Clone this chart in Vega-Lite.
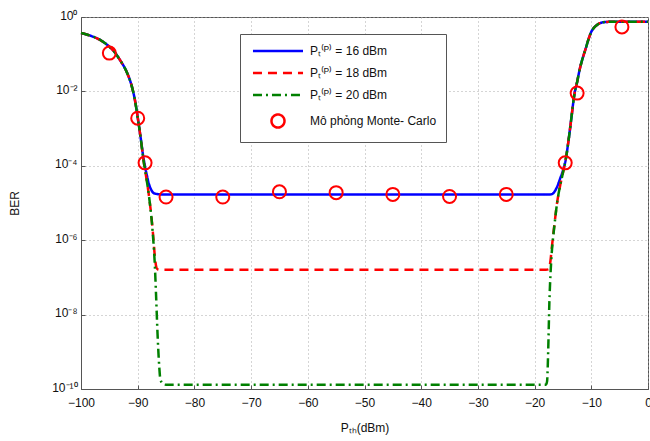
{
  "$schema": "https://vega.github.io/schema/vega-lite/v6.json",
  "width": 567,
  "height": 372,
  "autosize": {"type": "none"},
  "padding": {"left": 81, "top": 17, "right": 2, "bottom": 52},
  "background": "white",
  "config": {
    "font": "Liberation Sans",
    "view": {"stroke": "#555", "strokeWidth": 1},
    "axis": {
      "labelFont": "Liberation Sans", "titleFont": "Liberation Sans",
      "labelFontSize": 12, "titleFontSize": 12, "titleFontWeight": "normal",
      "labelColor": "#111", "titleColor": "#111",
      "domainColor": "#555", "tickColor": "#555",
      "gridColor": "#aaa", "gridDash": [1, 3], "gridOpacity": 1,
      "tickSize": -4, "labelPadding": 8, "labelFlush": false
    },
    "legend": {
      "labelFont": "Liberation Sans",
      "orient": "none", "legendX": 159, "legendY": 17,
      "fillColor": "white", "strokeColor": "#555",
      "padding": 9, "rowPadding": 8,
      "symbolSize": 169, "symbolStrokeWidth": 2.5, "symbolOffset": 21,
      "labelFontSize": 12, "labelOffset": 24, "labelColor": "#111"
    }
  },
  "datasets": {
    "lines": [
      {"x": -100, "y": 0.37, "s": "Pₜ⁽ᴾ⁾ = 16 dBm"},
      {"x": -99, "y": 0.34, "s": "Pₜ⁽ᴾ⁾ = 16 dBm"},
      {"x": -98, "y": 0.30, "s": "Pₜ⁽ᴾ⁾ = 16 dBm"},
      {"x": -97, "y": 0.26, "s": "Pₜ⁽ᴾ⁾ = 16 dBm"},
      {"x": -96, "y": 0.21, "s": "Pₜ⁽ᴾ⁾ = 16 dBm"},
      {"x": -95, "y": 0.16, "s": "Pₜ⁽ᴾ⁾ = 16 dBm"},
      {"x": -94, "y": 0.11, "s": "Pₜ⁽ᴾ⁾ = 16 dBm"},
      {"x": -93, "y": 0.065, "s": "Pₜ⁽ᴾ⁾ = 16 dBm"},
      {"x": -92, "y": 0.035, "s": "Pₜ⁽ᴾ⁾ = 16 dBm"},
      {"x": -91, "y": 0.013, "s": "Pₜ⁽ᴾ⁾ = 16 dBm"},
      {"x": -90.5, "y": 0.006, "s": "Pₜ⁽ᴾ⁾ = 16 dBm"},
      {"x": -90, "y": 0.002, "s": "Pₜ⁽ᴾ⁾ = 16 dBm"},
      {"x": -89.5, "y": 0.0006, "s": "Pₜ⁽ᴾ⁾ = 16 dBm"},
      {"x": -89, "y": 0.00017, "s": "Pₜ⁽ᴾ⁾ = 16 dBm"},
      {"x": -88.5, "y": 6.7e-5, "s": "Pₜ⁽ᴾ⁾ = 16 dBm"},
      {"x": -88, "y": 3.2e-5, "s": "Pₜ⁽ᴾ⁾ = 16 dBm"},
      {"x": -87.5, "y": 2.1e-5, "s": "Pₜ⁽ᴾ⁾ = 16 dBm"},
      {"x": -87, "y": 1.8e-5, "s": "Pₜ⁽ᴾ⁾ = 16 dBm"},
      {"x": -86, "y": 1.7e-5, "s": "Pₜ⁽ᴾ⁾ = 16 dBm"},
      {"x": -85, "y": 1.68e-5, "s": "Pₜ⁽ᴾ⁾ = 16 dBm"},
      {"x": -18, "y": 1.68e-5, "s": "Pₜ⁽ᴾ⁾ = 16 dBm"},
      {"x": -17, "y": 1.72e-5, "s": "Pₜ⁽ᴾ⁾ = 16 dBm"},
      {"x": -16.5, "y": 2e-5, "s": "Pₜ⁽ᴾ⁾ = 16 dBm"},
      {"x": -16, "y": 2.8e-5, "s": "Pₜ⁽ᴾ⁾ = 16 dBm"},
      {"x": -15.5, "y": 4.5e-5, "s": "Pₜ⁽ᴾ⁾ = 16 dBm"},
      {"x": -15, "y": 7.5e-5, "s": "Pₜ⁽ᴾ⁾ = 16 dBm"},
      {"x": -14.5, "y": 0.00015, "s": "Pₜ⁽ᴾ⁾ = 16 dBm"},
      {"x": -14, "y": 0.0005, "s": "Pₜ⁽ᴾ⁾ = 16 dBm"},
      {"x": -13.5, "y": 0.002, "s": "Pₜ⁽ᴾ⁾ = 16 dBm"},
      {"x": -13, "y": 0.008, "s": "Pₜ⁽ᴾ⁾ = 16 dBm"},
      {"x": -12.5, "y": 0.018, "s": "Pₜ⁽ᴾ⁾ = 16 dBm"},
      {"x": -12, "y": 0.042, "s": "Pₜ⁽ᴾ⁾ = 16 dBm"},
      {"x": -11.5, "y": 0.08, "s": "Pₜ⁽ᴾ⁾ = 16 dBm"},
      {"x": -11, "y": 0.14, "s": "Pₜ⁽ᴾ⁾ = 16 dBm"},
      {"x": -10.5, "y": 0.25, "s": "Pₜ⁽ᴾ⁾ = 16 dBm"},
      {"x": -10, "y": 0.4, "s": "Pₜ⁽ᴾ⁾ = 16 dBm"},
      {"x": -9.5, "y": 0.52, "s": "Pₜ⁽ᴾ⁾ = 16 dBm"},
      {"x": -9, "y": 0.61, "s": "Pₜ⁽ᴾ⁾ = 16 dBm"},
      {"x": -8.5, "y": 0.68, "s": "Pₜ⁽ᴾ⁾ = 16 dBm"},
      {"x": -8, "y": 0.72, "s": "Pₜ⁽ᴾ⁾ = 16 dBm"},
      {"x": -7, "y": 0.74, "s": "Pₜ⁽ᴾ⁾ = 16 dBm"},
      {"x": -6, "y": 0.75, "s": "Pₜ⁽ᴾ⁾ = 16 dBm"},
      {"x": 0, "y": 0.75, "s": "Pₜ⁽ᴾ⁾ = 16 dBm"},

      {"x": -100, "y": 0.37, "s": "Pₜ⁽ᴾ⁾ = 18 dBm"},
      {"x": -99, "y": 0.34, "s": "Pₜ⁽ᴾ⁾ = 18 dBm"},
      {"x": -98, "y": 0.30, "s": "Pₜ⁽ᴾ⁾ = 18 dBm"},
      {"x": -97, "y": 0.26, "s": "Pₜ⁽ᴾ⁾ = 18 dBm"},
      {"x": -96, "y": 0.21, "s": "Pₜ⁽ᴾ⁾ = 18 dBm"},
      {"x": -95, "y": 0.16, "s": "Pₜ⁽ᴾ⁾ = 18 dBm"},
      {"x": -94, "y": 0.11, "s": "Pₜ⁽ᴾ⁾ = 18 dBm"},
      {"x": -93, "y": 0.065, "s": "Pₜ⁽ᴾ⁾ = 18 dBm"},
      {"x": -92, "y": 0.035, "s": "Pₜ⁽ᴾ⁾ = 18 dBm"},
      {"x": -91, "y": 0.013, "s": "Pₜ⁽ᴾ⁾ = 18 dBm"},
      {"x": -90.5, "y": 0.006, "s": "Pₜ⁽ᴾ⁾ = 18 dBm"},
      {"x": -90, "y": 0.002, "s": "Pₜ⁽ᴾ⁾ = 18 dBm"},
      {"x": -89.5, "y": 0.0006, "s": "Pₜ⁽ᴾ⁾ = 18 dBm"},
      {"x": -89, "y": 0.00015, "s": "Pₜ⁽ᴾ⁾ = 18 dBm"},
      {"x": -88.5, "y": 5e-5, "s": "Pₜ⁽ᴾ⁾ = 18 dBm"},
      {"x": -88, "y": 1.5e-5, "s": "Pₜ⁽ᴾ⁾ = 18 dBm"},
      {"x": -87.5, "y": 3.2e-6, "s": "Pₜ⁽ᴾ⁾ = 18 dBm"},
      {"x": -87.25, "y": 1.2e-6, "s": "Pₜ⁽ᴾ⁾ = 18 dBm"},
      {"x": -87, "y": 4e-7, "s": "Pₜ⁽ᴾ⁾ = 18 dBm"},
      {"x": -86.75, "y": 2e-7, "s": "Pₜ⁽ᴾ⁾ = 18 dBm"},
      {"x": -86.5, "y": 1.65e-7, "s": "Pₜ⁽ᴾ⁾ = 18 dBm"},
      {"x": -86, "y": 1.6e-7, "s": "Pₜ⁽ᴾ⁾ = 18 dBm"},
      {"x": -18, "y": 1.6e-7, "s": "Pₜ⁽ᴾ⁾ = 18 dBm"},
      {"x": -17.5, "y": 1.65e-7, "s": "Pₜ⁽ᴾ⁾ = 18 dBm"},
      {"x": -17.2, "y": 2.8e-7, "s": "Pₜ⁽ᴾ⁾ = 18 dBm"},
      {"x": -17, "y": 5.6e-7, "s": "Pₜ⁽ᴾ⁾ = 18 dBm"},
      {"x": -16.5, "y": 2.7e-6, "s": "Pₜ⁽ᴾ⁾ = 18 dBm"},
      {"x": -16, "y": 1.1e-5, "s": "Pₜ⁽ᴾ⁾ = 18 dBm"},
      {"x": -15.5, "y": 2.9e-5, "s": "Pₜ⁽ᴾ⁾ = 18 dBm"},
      {"x": -15, "y": 6.5e-5, "s": "Pₜ⁽ᴾ⁾ = 18 dBm"},
      {"x": -14.5, "y": 0.00015, "s": "Pₜ⁽ᴾ⁾ = 18 dBm"},
      {"x": -14, "y": 0.0005, "s": "Pₜ⁽ᴾ⁾ = 18 dBm"},
      {"x": -13.5, "y": 0.002, "s": "Pₜ⁽ᴾ⁾ = 18 dBm"},
      {"x": -13, "y": 0.008, "s": "Pₜ⁽ᴾ⁾ = 18 dBm"},
      {"x": -12.5, "y": 0.018, "s": "Pₜ⁽ᴾ⁾ = 18 dBm"},
      {"x": -12, "y": 0.042, "s": "Pₜ⁽ᴾ⁾ = 18 dBm"},
      {"x": -11.5, "y": 0.08, "s": "Pₜ⁽ᴾ⁾ = 18 dBm"},
      {"x": -11, "y": 0.14, "s": "Pₜ⁽ᴾ⁾ = 18 dBm"},
      {"x": -10.5, "y": 0.25, "s": "Pₜ⁽ᴾ⁾ = 18 dBm"},
      {"x": -10, "y": 0.4, "s": "Pₜ⁽ᴾ⁾ = 18 dBm"},
      {"x": -9.5, "y": 0.52, "s": "Pₜ⁽ᴾ⁾ = 18 dBm"},
      {"x": -9, "y": 0.61, "s": "Pₜ⁽ᴾ⁾ = 18 dBm"},
      {"x": -8.5, "y": 0.68, "s": "Pₜ⁽ᴾ⁾ = 18 dBm"},
      {"x": -8, "y": 0.72, "s": "Pₜ⁽ᴾ⁾ = 18 dBm"},
      {"x": -7, "y": 0.74, "s": "Pₜ⁽ᴾ⁾ = 18 dBm"},
      {"x": -6, "y": 0.75, "s": "Pₜ⁽ᴾ⁾ = 18 dBm"},
      {"x": 0, "y": 0.75, "s": "Pₜ⁽ᴾ⁾ = 18 dBm"},

      {"x": -100, "y": 0.37, "s": "Pₜ⁽ᴾ⁾ = 20 dBm"},
      {"x": -99, "y": 0.34, "s": "Pₜ⁽ᴾ⁾ = 20 dBm"},
      {"x": -98, "y": 0.30, "s": "Pₜ⁽ᴾ⁾ = 20 dBm"},
      {"x": -97, "y": 0.26, "s": "Pₜ⁽ᴾ⁾ = 20 dBm"},
      {"x": -96, "y": 0.21, "s": "Pₜ⁽ᴾ⁾ = 20 dBm"},
      {"x": -95, "y": 0.16, "s": "Pₜ⁽ᴾ⁾ = 20 dBm"},
      {"x": -94, "y": 0.11, "s": "Pₜ⁽ᴾ⁾ = 20 dBm"},
      {"x": -93, "y": 0.065, "s": "Pₜ⁽ᴾ⁾ = 20 dBm"},
      {"x": -92, "y": 0.035, "s": "Pₜ⁽ᴾ⁾ = 20 dBm"},
      {"x": -91, "y": 0.013, "s": "Pₜ⁽ᴾ⁾ = 20 dBm"},
      {"x": -90.5, "y": 0.006, "s": "Pₜ⁽ᴾ⁾ = 20 dBm"},
      {"x": -90, "y": 0.002, "s": "Pₜ⁽ᴾ⁾ = 20 dBm"},
      {"x": -89.5, "y": 0.0006, "s": "Pₜ⁽ᴾ⁾ = 20 dBm"},
      {"x": -89, "y": 0.00015, "s": "Pₜ⁽ᴾ⁾ = 20 dBm"},
      {"x": -88.5, "y": 5e-5, "s": "Pₜ⁽ᴾ⁾ = 20 dBm"},
      {"x": -88, "y": 1.5e-5, "s": "Pₜ⁽ᴾ⁾ = 20 dBm"},
      {"x": -87.5, "y": 3e-6, "s": "Pₜ⁽ᴾ⁾ = 20 dBm"},
      {"x": -87.25, "y": 1e-6, "s": "Pₜ⁽ᴾ⁾ = 20 dBm"},
      {"x": -87, "y": 2.5e-7, "s": "Pₜ⁽ᴾ⁾ = 20 dBm"},
      {"x": -86.75, "y": 3e-8, "s": "Pₜ⁽ᴾ⁾ = 20 dBm"},
      {"x": -86.5, "y": 3e-9, "s": "Pₜ⁽ᴾ⁾ = 20 dBm"},
      {"x": -86.2, "y": 4e-10, "s": "Pₜ⁽ᴾ⁾ = 20 dBm"},
      {"x": -86, "y": 1.8e-10, "s": "Pₜ⁽ᴾ⁾ = 20 dBm"},
      {"x": -85.5, "y": 1.35e-10, "s": "Pₜ⁽ᴾ⁾ = 20 dBm"},
      {"x": -85, "y": 1.3e-10, "s": "Pₜ⁽ᴾ⁾ = 20 dBm"},
      {"x": -18, "y": 1.3e-10, "s": "Pₜ⁽ᴾ⁾ = 20 dBm"},
      {"x": -17.8, "y": 1.6e-10, "s": "Pₜ⁽ᴾ⁾ = 20 dBm"},
      {"x": -17.6, "y": 1.1e-9, "s": "Pₜ⁽ᴾ⁾ = 20 dBm"},
      {"x": -17.4, "y": 2e-8, "s": "Pₜ⁽ᴾ⁾ = 20 dBm"},
      {"x": -17.2, "y": 1.2e-7, "s": "Pₜ⁽ᴾ⁾ = 20 dBm"},
      {"x": -17, "y": 4e-7, "s": "Pₜ⁽ᴾ⁾ = 20 dBm"},
      {"x": -16.5, "y": 2.5e-6, "s": "Pₜ⁽ᴾ⁾ = 20 dBm"},
      {"x": -16, "y": 1.1e-5, "s": "Pₜ⁽ᴾ⁾ = 20 dBm"},
      {"x": -15.5, "y": 2.9e-5, "s": "Pₜ⁽ᴾ⁾ = 20 dBm"},
      {"x": -15, "y": 6.5e-5, "s": "Pₜ⁽ᴾ⁾ = 20 dBm"},
      {"x": -14.5, "y": 0.00015, "s": "Pₜ⁽ᴾ⁾ = 20 dBm"},
      {"x": -14, "y": 0.0005, "s": "Pₜ⁽ᴾ⁾ = 20 dBm"},
      {"x": -13.5, "y": 0.002, "s": "Pₜ⁽ᴾ⁾ = 20 dBm"},
      {"x": -13, "y": 0.008, "s": "Pₜ⁽ᴾ⁾ = 20 dBm"},
      {"x": -12.5, "y": 0.018, "s": "Pₜ⁽ᴾ⁾ = 20 dBm"},
      {"x": -12, "y": 0.042, "s": "Pₜ⁽ᴾ⁾ = 20 dBm"},
      {"x": -11.5, "y": 0.08, "s": "Pₜ⁽ᴾ⁾ = 20 dBm"},
      {"x": -11, "y": 0.14, "s": "Pₜ⁽ᴾ⁾ = 20 dBm"},
      {"x": -10.5, "y": 0.25, "s": "Pₜ⁽ᴾ⁾ = 20 dBm"},
      {"x": -10, "y": 0.4, "s": "Pₜ⁽ᴾ⁾ = 20 dBm"},
      {"x": -9.5, "y": 0.52, "s": "Pₜ⁽ᴾ⁾ = 20 dBm"},
      {"x": -9, "y": 0.61, "s": "Pₜ⁽ᴾ⁾ = 20 dBm"},
      {"x": -8.5, "y": 0.68, "s": "Pₜ⁽ᴾ⁾ = 20 dBm"},
      {"x": -8, "y": 0.72, "s": "Pₜ⁽ᴾ⁾ = 20 dBm"},
      {"x": -7, "y": 0.74, "s": "Pₜ⁽ᴾ⁾ = 20 dBm"},
      {"x": -6, "y": 0.75, "s": "Pₜ⁽ᴾ⁾ = 20 dBm"},
      {"x": 0, "y": 0.75, "s": "Pₜ⁽ᴾ⁾ = 20 dBm"}
    ],
    "mc": [
      {"x": -95, "y": 0.107, "s": "Mô phỏng Monte- Carlo"},
      {"x": -90, "y": 0.0019, "s": "Mô phỏng Monte- Carlo"},
      {"x": -88.7, "y": 0.00012, "s": "Mô phỏng Monte- Carlo"},
      {"x": -85, "y": 1.45e-5, "s": "Mô phỏng Monte- Carlo"},
      {"x": -75, "y": 1.45e-5, "s": "Mô phỏng Monte- Carlo"},
      {"x": -65, "y": 2e-5, "s": "Mô phỏng Monte- Carlo"},
      {"x": -55, "y": 1.9e-5, "s": "Mô phỏng Monte- Carlo"},
      {"x": -45, "y": 1.7e-5, "s": "Mô phỏng Monte- Carlo"},
      {"x": -35, "y": 1.5e-5, "s": "Mô phỏng Monte- Carlo"},
      {"x": -25, "y": 1.7e-5, "s": "Mô phỏng Monte- Carlo"},
      {"x": -14.6, "y": 0.00012, "s": "Mô phỏng Monte- Carlo"},
      {"x": -12.5, "y": 0.009, "s": "Mô phỏng Monte- Carlo"},
      {"x": -4.6, "y": 0.54, "s": "Mô phỏng Monte- Carlo"}
    ]
  },
  "encoding": {
    "x": {
      "field": "x", "type": "quantitative",
      "scale": {"domain": [-100, 0], "nice": false},
      "axis": {"values": [-100, -90, -80, -70, -60, -50, -40, -30, -20, -10, 0], "title": "Pₜₕ(dBm)", "grid": true, "labelPadding": 12, "titlePadding": 14}
    },
    "y": {
      "field": "y", "type": "quantitative",
      "scale": {"type": "log", "domain": [1e-10, 1], "nice": false},
      "axis": {
        "values": [1, 0.01, 0.0001, 1e-6, 1e-8, 1e-10],
        "labelExpr": "datum.value > 0.5 ? '10⁰' : datum.value > 0.005 ? '10⁻²' : datum.value > 5e-5 ? '10⁻⁴' : datum.value > 5e-7 ? '10⁻⁶' : datum.value > 5e-9 ? '10⁻⁸' : '10⁻¹⁰'",
        "title": "BER", "grid": true, "labelOffset": -2, "titlePadding": 30
      }
    },
    "color": {
      "field": "s", "type": "nominal",
      "scale": {
        "domain": ["Pₜ⁽ᴾ⁾ = 16 dBm", "Pₜ⁽ᴾ⁾ = 18 dBm", "Pₜ⁽ᴾ⁾ = 20 dBm", "Mô phỏng Monte- Carlo"],
        "range": ["#0000ff", "#ff0000", "#008000", "#ff0000"]
      },
      "legend": {"title": null}
    }
  },
  "layer": [
    {
      "data": {"name": "lines"},
      "mark": {"type": "line", "strokeWidth": 2.5, "interpolate": "monotone"},
      "encoding": {
        "strokeDash": {
          "field": "s", "type": "nominal",
          "scale": {
            "domain": ["Pₜ⁽ᴾ⁾ = 16 dBm", "Pₜ⁽ᴾ⁾ = 18 dBm", "Pₜ⁽ᴾ⁾ = 20 dBm", "Mô phỏng Monte- Carlo"],
            "range": [[1, 0], [9, 6], [9, 4, 2, 4], [1, 0]]
          },
          "legend": {"title": null}
        }
      }
    },
    {
      "data": {"name": "mc"},
      "mark": {"type": "point", "filled": false, "size": 169, "strokeWidth": 2, "opacity": 1},
      "encoding": {
        "shape": {
          "field": "s", "type": "nominal",
          "scale": {
            "domain": ["Pₜ⁽ᴾ⁾ = 16 dBm", "Pₜ⁽ᴾ⁾ = 18 dBm", "Pₜ⁽ᴾ⁾ = 20 dBm", "Mô phỏng Monte- Carlo"],
            "range": ["M-3.85,0L3.85,0", "M-3.85,0L3.85,0", "M-3.85,0L3.85,0", "circle"]
          },
          "legend": {"title": null}
        }
      }
    }
  ]
}
